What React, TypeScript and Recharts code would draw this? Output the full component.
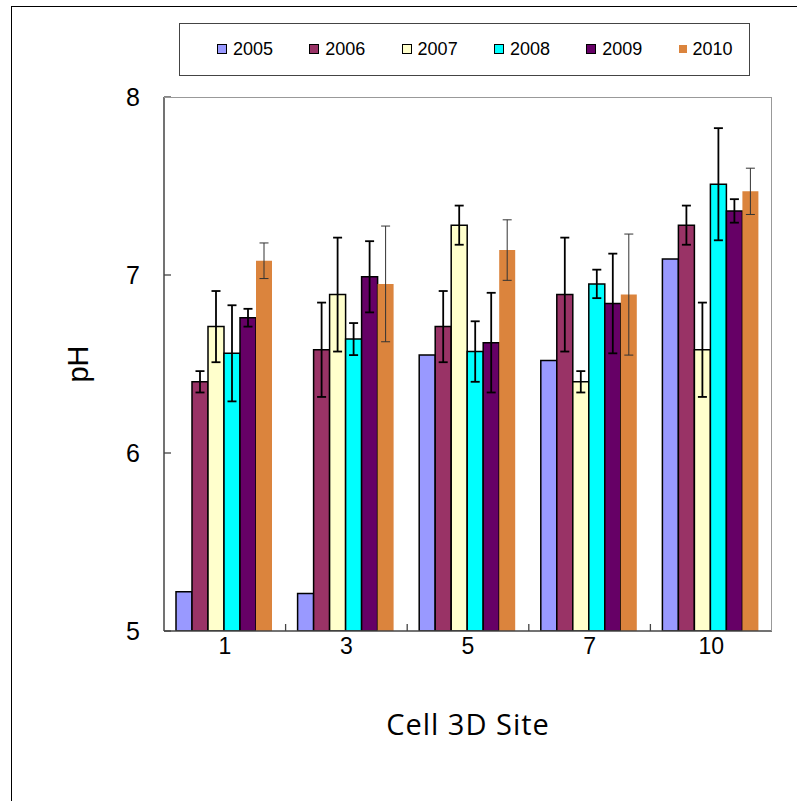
import { Bar, BarChart, ErrorBar, XAxis, YAxis, Label } from "recharts";

const sites = ["1", "3", "5", "7", "10"];
const years = ["2005", "2006", "2007", "2008", "2009", "2010"];
const colors = ["#9999FF", "#993366", "#FFFFCC", "#00FFFF", "#660066", "#DB843D"];

const ph2005 = [5.22, 5.21, 6.55, 6.52, 7.09];
const ph2006 = [6.4, 6.58, 6.71, 6.89, 7.28];
const ph2007 = [6.71, 6.89, 7.28, 6.4, 6.58];
const ph2008 = [6.56, 6.64, 6.57, 6.95, 7.51];
const ph2009 = [6.76, 6.99, 6.62, 6.84, 7.36];
const ph2010 = [7.08, 6.95, 7.14, 6.89, 7.47];

const err2006 = [0.06, 0.265, 0.2, 0.32, 0.11];
const err2007 = [0.2, 0.32, 0.11, 0.06, 0.265];
const err2008 = [0.27, 0.09, 0.17, 0.08, 0.315];
const err2009 = [0.05, 0.2, 0.28, 0.28, 0.066];
const err2010 = [0.1, 0.325, 0.17, 0.34, 0.13];

const values = [ph2005, ph2006, ph2007, ph2008, ph2009, ph2010];
const errors = [null, err2006, err2007, err2008, err2009, err2010];

const data = sites.map((site, i) => {
  const row: Record<string, string | number> = { site };
  years.forEach((y, k) => {
    row["y" + y] = values[k][i];
    const e = errors[k];
    if (e) row["e" + y] = e[i];
  });
  return row;
});

const BAND = 608 / sites.length;

function YTick({ x, y, payload }: any) {
  return (
    <g>
      <line x1={x} x2={x + 7} y1={y} y2={y} stroke="#444" strokeWidth={1.3} />
      <text x={x - 24} y={y} textAnchor="end" dominantBaseline="central" fontSize={25} fontFamily="Liberation Sans, Arial, sans-serif" fill="#000">
        {payload.value}
      </text>
    </g>
  );
}

function XTick({ x, y, payload, index }: any) {
  return (
    <g>
      {index < sites.length - 1 && (
        <line x1={x + BAND / 2} x2={x + BAND / 2} y1={y} y2={y - 7} stroke="#444" strokeWidth={1.3} />
      )}
      <text x={x} y={y + 15} textAnchor="middle" dominantBaseline="central" fontSize={23} fontFamily="Liberation Sans, Arial, sans-serif" fill="#000">
        {payload.value}
      </text>
    </g>
  );
}

function LegendBox() {
  return (
    <div
      style={{
        position: "absolute",
        left: 179,
        top: 23,
        width: 571,
        height: 53,
        border: "1px solid #444",
        boxSizing: "border-box",
        fontFamily: "Liberation Sans, Arial, sans-serif",
        fontSize: 18,
        background: "#fff",
      }}
    >
      {years.map((y, k) => (
        <div key={y} style={{ position: "absolute", left: 37 + k * 92.3, top: 13, display: "flex", alignItems: "center", height: 24 }}>
          <span
            style={{
              width: 8,
              height: 8,
              background: colors[k],
              border: k === 5 ? "none" : "1px solid #000",
              display: "inline-block",
              marginRight: 6,
            }}
          />
          <span>{y}</span>
        </div>
      ))}
    </div>
  );
}

export default function App() {
  return (
    <div style={{ position: "absolute", left: 0, top: 0, width: 797, height: 801, background: "#fff" }}>
      <div style={{ position: "absolute", left: 11, top: 6, right: 0, bottom: 0, borderTop: "1px solid #000", borderLeft: "1px solid #000" }} />
      <BarChart
        width={797}
        height={801}
        data={data}
        margin={{ top: 97, right: 25, bottom: 60, left: 64 }}
        barCategoryGap={12}
        barGap={0}
        style={{ position: "absolute", left: 0, top: 0 }}
      >
        <XAxis
          dataKey="site"
          height={110}
          tickSize={0}
          tickMargin={0}
          tick={<XTick />}
          axisLine={{ stroke: "#444", strokeWidth: 1.5 }}
          tickLine={false}
          interval={0}
        >
          <Label
            value="Cell 3D Site"
            position="insideBottom"
            offset={6}
            style={{ fontSize: 29, letterSpacing: 1, fontFamily: "Open Sans, sans-serif", fill: "#000" }}
          />
        </XAxis>
        <YAxis
          type="number"
          domain={[5, 8]}
          ticks={[5, 6, 7, 8]}
          allowDataOverflow
          width={100}
          tickSize={0}
          tickMargin={0}
          tick={<YTick />}
          axisLine={{ stroke: "#444", strokeWidth: 1.5 }}
          tickLine={false}
        >
          <Label
            value="pH"
            angle={-90}
            position="insideLeft"
            offset={14}
            style={{ fontSize: 29, fontFamily: "Liberation Sans, Arial, sans-serif", fill: "#000", textAnchor: "middle" }}
          />
        </YAxis>
        {years.map((y, k) => (
          <Bar
            key={y}
            dataKey={"y" + y}
            name={y}
            fill={colors[k]}
            stroke={k === 5 ? "none" : "#000"}
            strokeWidth={k === 5 ? 0 : 1.5}
            isAnimationActive={false}
          >
            {k > 0 && (
              <ErrorBar
                dataKey={"e" + y}
                width={4.5}
                stroke={k === 5 ? "#333" : "#000"}
                strokeWidth={k === 5 ? 1 : 1.8}
                isAnimationActive={false}
              />
            )}
          </Bar>
        ))}
      </BarChart>
      <LegendBox />
      <div
        style={{
          position: "absolute",
          left: 164,
          top: 97,
          width: 608,
          height: 534,
          borderTop: "1.5px solid #999",
          borderRight: "1.5px solid #999",
          boxSizing: "border-box",
          pointerEvents: "none",
        }}
      />
    </div>
  );
}
